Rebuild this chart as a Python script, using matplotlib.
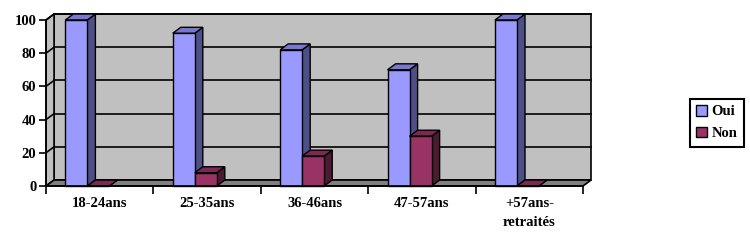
import matplotlib
matplotlib.use("Agg")
import matplotlib.pyplot as plt
from matplotlib.patches import Polygon, Patch

# Data
categories = ["18-24ans", "25-35ans", "36-46ans", "47-57ans", "+57ans-\nretraités"]
oui = [100, 92, 82, 70, 100]
non = [0, 8, 18, 30, 0]
series_labels = ["Oui", "Non"]

# colours (front, top, side) for each series
colors = {
    "Oui": ("#9999ff", "#7878d0", "#4f4f88"),
    "Non": ("#993366", "#7a2952", "#4d1a33"),
}

DX = 0.075  # depth offset in category units
DY = 3.6    # depth offset in value units
BAR_W = 0.205
SHIFT = -0.115

plt.rcParams["font.family"] = ["Liberation Serif", "DejaVu Serif"]
plt.rcParams["font.weight"] = "bold"

fig = plt.figure(figsize=(7.5, 2.4), dpi=100)
ax = fig.add_axes([46 / 750, 54 / 240, 537 / 750, 166 / 240])
n = len(categories)
ax.set_xlim(0, n)
ax.set_ylim(0, 100)

# walls and floor
wall = dict(facecolor="#c0c0c0", edgecolor="black", linewidth=1.2, clip_on=False, zorder=0)
ax.add_patch(Polygon([(DX, DY), (n + DX, DY), (n + DX, 100 + DY), (DX, 100 + DY)], **wall))
ax.add_patch(Polygon([(0, 0), (DX, DY), (DX, 100 + DY), (0, 100)], **wall))
ax.add_patch(Polygon([(0, 0), (n, 0), (n + DX, DY), (DX, DY)],
                     facecolor="#808080", edgecolor="black", linewidth=1.2,
                     clip_on=False, zorder=0.5))
for v in range(20, 101, 20):
    ax.plot([DX, n + DX], [v + DY, v + DY], color="black", lw=1.2, clip_on=False, zorder=0.6)
    ax.plot([0, DX], [v, v + DY], color="black", lw=1.2, clip_on=False, zorder=0.6)


def bar3d(x, h, name, z):
    front, top, side = colors[name]
    ax.bar(x, h, width=BAR_W, align="edge", color=front, edgecolor="black",
           linewidth=1.0, zorder=z + 0.2, clip_on=False)
    ax.add_patch(Polygon([(x, h), (x + BAR_W, h), (x + BAR_W + DX, h + DY), (x + DX, h + DY)],
                         facecolor=top, edgecolor="black", linewidth=1.0,
                         clip_on=False, zorder=z + 0.1))
    ax.add_patch(Polygon([(x + BAR_W, 0), (x + BAR_W + DX, DY), (x + BAR_W + DX, h + DY), (x + BAR_W, h)],
                         facecolor=side, edgecolor="black", linewidth=1.0,
                         clip_on=False, zorder=z))


for i in range(n):
    x0 = i + 0.5 + SHIFT - BAR_W
    bar3d(x0, oui[i], "Oui", 2 + i * 2)
    bar3d(x0 + BAR_W, non[i], "Non", 3 + i * 2)

# axes styling
for s in ["top", "right"]:
    ax.spines[s].set_visible(False)
for s in ["left", "bottom"]:
    ax.spines[s].set_linewidth(1.2)
    ax.spines[s].set_zorder(20)
ax.set_facecolor("none")
ax.set_yticks(range(0, 101, 20))
ax.tick_params(axis="y", length=5, width=1.2, labelsize=10.5, pad=2)
ax.set_xticks(range(n + 1))
ax.set_xticklabels([])
ax.set_xticks([i + 0.5 for i in range(n)], minor=True)
ax.set_xticklabels(categories, minor=True, fontsize=10.5, linespacing=1.6)
ax.tick_params(axis="x", which="major", length=6, width=1.2)
ax.tick_params(axis="x", which="minor", length=0, pad=8)
for lbl in ax.get_yticklabels() + ax.get_xticklabels(minor=True):
    lbl.set_fontweight("bold")

handles = [Patch(facecolor=colors[s][0], edgecolor="black", label=s) for s in series_labels]
leg = fig.legend(handles=handles, loc="center", bbox_to_anchor=(717 / 750, 1 - 122.5 / 240),
                 fancybox=False, edgecolor="black", framealpha=1, handlelength=0.75,
                 handleheight=0.75, handletextpad=0.3, borderpad=0.45, labelspacing=0.55,
                 prop={"weight": "bold", "size": 10.5}, borderaxespad=0)
leg.get_frame().set_linewidth(1.5)

fig.savefig("out.png", dpi=100)
plt.close(fig)
